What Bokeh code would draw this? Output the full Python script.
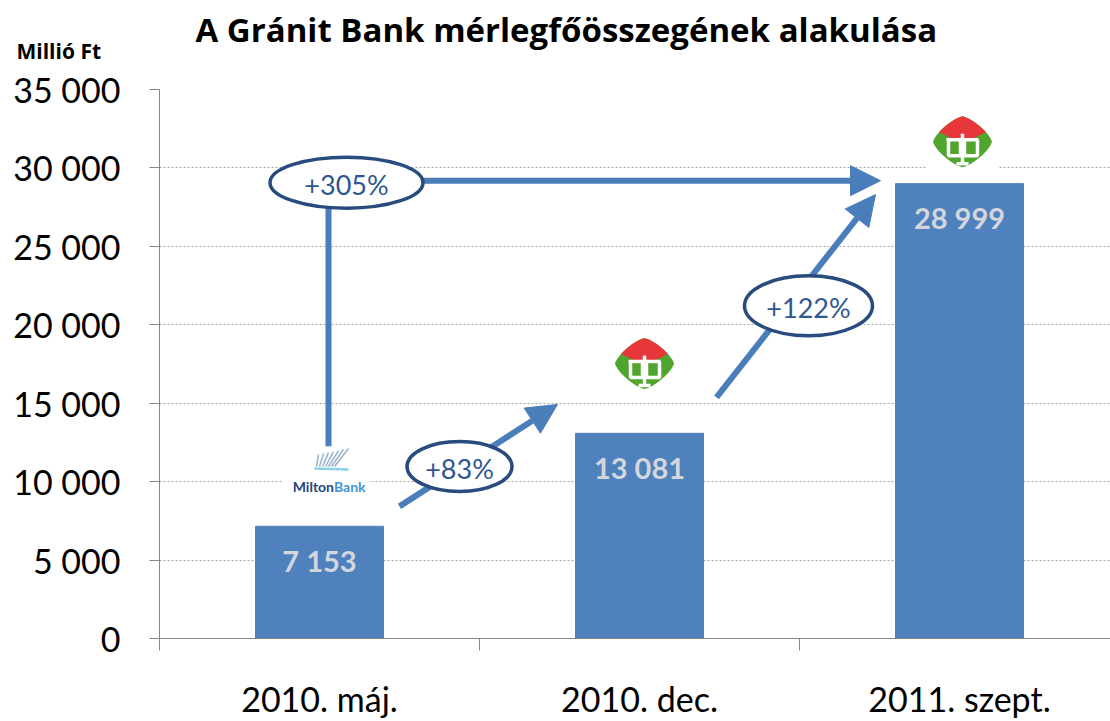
import math
from bokeh.plotting import figure
from bokeh.models import Range1d, FixedTicker, Title, Arrow, NormalHead
from bokeh.core.properties import value
from bokeh.embed import file_html
from bokeh.resources import INLINE

# ---------------- data ----------------
categories = ["2010. máj.", "2010. dec.", "2011. szept."]
values = [7153, 13081, 28999]
value_labels = ["7 153", "13 081", "28 999"]
y_ticks = [0, 5000, 10000, 15000, 20000, 25000, 30000, 35000]
y_tick_labels = ["0", "5 000", "10 000", "15 000", "20 000", "25 000", "30 000", "35 000"]
title_text = "A Gránit Bank mérlegfőösszegének  alakulása"
unit_text = "Millió Ft"

# ---------------- layout helpers ----------------
W, H = 1110, 721
FL, FT, FB = 159, 89, 640
PPX = 320.0                      # px per category
XMAX = (W - FL) / PPX
YMAX = 35000
PPY = (FB - FT) / YMAX

def dx(px):
    return px / PPX

def dy(px):
    return px / PPY

xc = [i + 1 for i in range(len(categories))]

def growth(a, b):
    return "+%d%%" % round((b / a - 1) * 100)

FONT = "Lato"
TFONT = "Open Sans"
BAR = "#4F81BD"
ARROW = "#4A7EBB"
ELL_LINE = "#284C7E"
ELL_TEXT = "#2F5690"

p = figure(width=W, height=H, x_range=Range1d(0.5, 0.5 + XMAX), y_range=Range1d(0, YMAX),
           output_backend="svg", toolbar_location=None,
           min_border_left=FL, min_border_right=0, min_border_top=FT, min_border_bottom=H - FB,
           outline_line_color=None, background_fill_color="white", border_fill_color="white")

# titles (first added sits closest to the frame)
p.add_layout(Title(text=unit_text, align="left", offset=16 - FL, standoff=49,
                   text_font=TFONT, text_font_style="bold", text_font_size="21px",
                   text_color="black"), "above")
p.add_layout(Title(text=title_text, align="left", offset=195 - FL, standoff=-83,
                   text_font=TFONT, text_font_style="bold", text_font_size="33px",
                   text_color="black"), "above")

# axes
p.xaxis.ticker = FixedTicker(ticks=xc, minor_ticks=[0.5, 1.5, 2.5, 3.5])
p.xaxis.major_label_overrides = {x: c for x, c in zip(xc, categories)}
p.xaxis.major_tick_line_color = None
p.xaxis.minor_tick_line_color = "#868686"
p.xaxis.minor_tick_out = 12
p.xaxis.minor_tick_in = 0
p.xaxis.axis_line_color = "#868686"
p.xaxis.major_label_text_font = FONT
p.xaxis.major_label_text_font_size = "34px"
p.xaxis.major_label_text_color = "black"
p.xaxis.major_label_standoff = 27

p.yaxis.ticker = FixedTicker(ticks=y_ticks, minor_ticks=[])
p.yaxis.major_label_overrides = dict(zip(y_ticks, y_tick_labels))
p.yaxis.major_tick_out = 10
p.yaxis.major_tick_in = 0
p.yaxis.major_tick_line_color = "#868686"
p.yaxis.minor_tick_line_color = None
p.yaxis.axis_line_color = "#868686"
p.yaxis.major_label_text_font = FONT
p.yaxis.major_label_text_font_size = "34px"
p.yaxis.major_label_text_color = "black"
p.yaxis.major_label_standoff = 29

p.xgrid.visible = False
p.ygrid.grid_line_color = "#A6A6A6"
p.ygrid.grid_line_dash = "2 2"
p.ygrid.grid_line_width = 1

# bars
p.vbar(x=xc, top=values, width=0.4, color=BAR)
p.text(x=xc, y=[v - dy(34) for v in values], text=value_labels,
       text_font=value(FONT), text_font_style="bold", text_font_size="29px",
       text_color="#D3D6DC", text_align="center", text_baseline="middle")

# ---------------- arrows (positioned relative to the bars) ----------------
head = lambda: NormalHead(size=30, fill_color=ARROW, line_color=ARROW, line_width=1)

a1s = (xc[0] + dx(80), values[0] + dy(20))
a1e = (xc[1] - dx(82), values[1] + dy(29))
a2s = (xc[1] + dx(77), values[1] + dy(36))
a2e = (xc[2] - dx(84), values[2] - dy(11))
vx = xc[0] + dx(9)
hy = values[2] + dy(3)
a3s = (vx, hy)
a3e = (xc[2] - dx(79), hy)

p.segment(x0=[vx], y0=[values[0] + dy(80)], x1=[vx], y1=[hy], line_color=ARROW, line_width=6)
for s, e in [(a1s, a1e), (a2s, a2e), (a3s, a3e)]:
    p.add_layout(Arrow(end=head(), x_start=s[0], y_start=s[1], x_end=e[0], y_end=e[1],
                       line_color=ARROW, line_width=6, level="underlay"))

# ---------------- logos ----------------
def pts(cx, cy, offs):
    return [cx + dx(a) for a, _ in offs], [cy + dy(b) for _, b in offs]

A_, B_, N_ = 29.5, 25.5, 1.35

def top_y(x):
    return B_ * max(0.0, 1 - abs(x / A_) ** N_) ** (1 / N_)

def granit_logo(cx, cy):
    p.rect(x=[cx], y=[cy], width=[72], height=[62], width_units="screen", height_units="screen",
           fill_color="white", line_color=None)
    steps = 60
    upper = [(-A_ + 2 * A_ * i / steps, top_y(-A_ + 2 * A_ * i / steps)) for i in range(steps + 1)]
    lower = [(x, -y) for x, y in upper[::-1]]
    bx, by = pts(cx, cy, upper + lower)
    p.patch(bx, by, fill_color="#4FA52E", line_color=None)
    # red dome: part of the body above a shallow V boundary
    bnd = lambda x: -2 + 0.5 * abs(x)
    xb = 0.0
    while top_y(xb) > bnd(xb):
        xb += 0.1
    dome = [(-xb + 2 * xb * i / 40, top_y(-xb + 2 * xb * i / 40)) for i in range(41)]
    dome += [(xb, bnd(xb)), (0, bnd(0)), (-xb, bnd(xb))]
    rx, ry = pts(cx, cy, dome)
    p.patch(rx, ry, fill_color="#E8373A", line_color=None)
    shapes = [
        [(-14, 2), (-14, -14), (-2, -14), (-2, 2)],
        [(2, 2), (2, -14), (15, -14), (15, 2)],
        [(-16, 2), (16, 2)],
        [(0, 8), (0, -22)],
        [(-6, -22), (6, -22)],
    ]
    xs, ys = [], []
    for s in shapes:
        a, b = pts(cx, cy, s)
        xs.append(a)
        ys.append(b)
    p.multi_line(xs, ys, line_color="white", line_width=3.5)

granit_logo(xc[1] + dx(5), values[1] + dy(70))
granit_logo(xc[2] + dx(3), values[2] + dy(42))

# Milton Bank logo
mx, my = xc[0] + dx(6.5), values[0] + dy(40)
p.rect(x=[mx], y=[my + dy(16)], width=[86], height=[48], width_units="screen", height_units="screen",
       fill_color="white", line_color=None)
icon_x, icon_y = xc[0] + dx(11), values[0] + dy(66)
fan = []
for k in range(7):
    fan.append([(-14 + 3 * k, -6), (-12 + 5 * k, 6 + k)])
xs, ys = [], []
for s in fan:
    a, b = pts(icon_x, icon_y, s)
    xs.append(a)
    ys.append(b)
p.multi_line(xs, ys, line_color="#9DB5CE", line_width=1.6)
bx, by = pts(icon_x, icon_y, [(-16, -8), (18, -9)])
p.line(bx, by, line_color="#86D3E8", line_width=2.5)
p.text(x=[mx + dx(8)], y=[my], text=["Milton"], text_font=value(FONT), text_font_style="bold",
       text_font_size="14px", text_color="#23467F", text_align="right", text_baseline="middle")
p.text(x=[mx + dx(8)], y=[my], text=["Bank"], text_font=value(FONT), text_font_style="bold",
       text_font_size="14px", text_color="#3F93D2", text_align="left", text_baseline="middle")

# ---------------- ellipses with growth labels ----------------
ell_x = [xc[0] + dx(27), xc[0] + dx(140), xc[1] + dx(169)]
ell_y = [values[2] + dy(1), values[0] + dy(60), values[1] + dy(128)]
ell_w = [153, 105, 128]
ell_h = [51, 50, 60]
ell_t = [growth(values[0], values[2]), growth(values[0], values[1]), growth(values[1], values[2])]
p.ellipse(x=ell_x, y=ell_y, width=ell_w, height=ell_h, width_units="screen", height_units="screen",
          fill_color="white", line_color=ELL_LINE, line_width=3.5)
p.text(x=ell_x, y=[y - dy(2) for y in ell_y], text=ell_t, text_font=value(FONT),
       text_font_size="27px", text_color=ELL_TEXT, text_align="center", text_baseline="middle")

open("out.html", "w").write(file_html(p, INLINE))
